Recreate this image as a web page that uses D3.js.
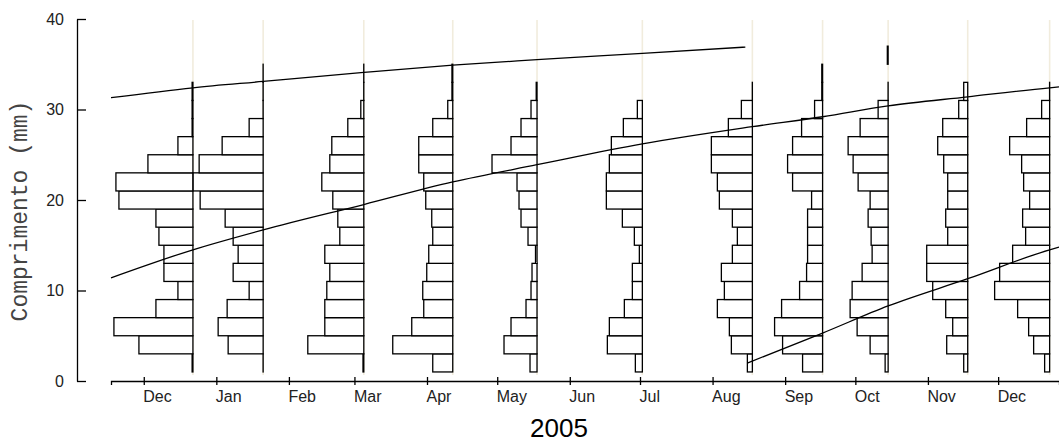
<!DOCTYPE html>
<meta charset="utf-8">
<body style="margin:0;background:#fff">
<svg id="chart" width="1059" height="442"></svg>
<script src="https://d3js.org/d3.v7.min.js"></script>
<style>
  body { font-family: "Liberation Sans", Arial, sans-serif; }
  .tick text { font-size: 16px; fill: #222; }
</style>
<script>

// length classes (lower bound, mm), 2 mm wide
var classLower = [1, 3, 5, 7, 9, 11, 13, 15, 17, 19, 21, 23, 25, 27, 29, 31, 33, 35]

// sampling dates
var sampleDates = [
  new Date(2004, 11, 22), new Date(2005, 0, 21), new Date(2005, 2, 5),
  new Date(2005, 3, 12), new Date(2005, 4, 18), new Date(2005, 6, 2),
  new Date(2005, 7, 18), new Date(2005, 8, 17), new Date(2005, 9, 15),
  new Date(2005, 10, 18), new Date(2005, 11, 23)
]

// frequencies per sample, one value per length class (0 = empty class)
var freqs = [
  [0.8, 54, 79, 37, 15, 29, 29, 34, 37, 74, 77, 45, 15, 0.8, 0.8, 0.8, 0, 0],
  [0.05, 35, 45, 36, 14, 30, 25, 30, 38, 63, 70, 64, 41, 14, 0.05, 0.05, 0.05, 0],
  [0.8, 56, 39, 39, 37, 34, 39, 24, 26, 31, 42, 34, 32, 16, 3, 0.05, 0.05, 0],
  [20, 60, 41, 29, 30, 26, 24, 20, 21, 27, 29, 34, 34, 20, 5, 0.8, 0.8, 0],
  [7, 33, 26, 11, 6, 5, 1.5, 9, 16, 18, 20, 45, 26, 16, 6, 0.8, 0, 0],
  [7, 35, 33, 18, 10, 10, 3, 8, 20, 36, 36, 33, 31, 19, 5, 0, 0, 0],
  [5, 21, 23, 35, 28, 31, 20, 15, 20, 33, 35, 41, 41, 24, 11, 0.05, 0, 0],
  [20, 40, 48, 41, 23, 16, 15, 15, 15, 11, 30, 35, 30, 21, 8, 0.8, 0.8, 0],
  [3, 18, 31, 38, 36, 26, 16, 17, 20, 18, 30, 35, 40, 28, 10, 0.05, 0, 0.8],
  [4, 21, 15, 22, 35, 41, 41, 20, 22, 20, 20, 24, 30, 25, 9, 4, 0, 0],
  [5, 16, 21, 32, 55, 50, 37, 24, 27, 20, 26, 28, 40, 23, 8, 0.05, 0, 0]
]

// growth curves: [date, length mm]
var cohortA = [
  [new Date(2004, 10, 17), 31.3], [new Date(2004, 11, 22), 32.4], [new Date(2005, 0, 21), 33.1],
  [new Date(2005, 2, 5), 34.1], [new Date(2005, 3, 12), 34.9], [new Date(2005, 4, 18), 35.5],
  [new Date(2005, 6, 2), 36.2], [new Date(2005, 7, 15), 36.9]
]
var cohortB = [
  [new Date(2004, 10, 17), 11.4], [new Date(2004, 11, 22), 14.5], [new Date(2005, 0, 21), 16.7],
  [new Date(2005, 2, 5), 19.5], [new Date(2005, 3, 12), 22.0], [new Date(2005, 4, 18), 23.9],
  [new Date(2005, 6, 2), 26.2], [new Date(2005, 7, 18), 28.1], [new Date(2005, 8, 17), 29.2],
  [new Date(2005, 9, 15), 30.4], [new Date(2005, 10, 18), 31.4], [new Date(2005, 11, 23), 32.4],
  [new Date(2005, 11, 27), 32.5]
]
var cohortC = [
  [new Date(2005, 7, 16), 2.0], [new Date(2005, 8, 17), 5.3], [new Date(2005, 9, 15), 8.3],
  [new Date(2005, 10, 18), 11.3], [new Date(2005, 11, 23), 14.5], [new Date(2005, 11, 27), 14.8]
]

var yTicks = [0, 10, 20, 30, 40]
var monthTicks = d3.timeMonth.range(new Date(2004, 11, 1), new Date(2005, 11, 2))

var svg = d3.select('#chart')

var x = d3.scaleTime()
  .domain([new Date(2004, 10, 17), new Date(2005, 11, 27)])
  .range([111, 1059])
var y = d3.scaleLinear().domain([0, 40]).range([381, 19])
var w = d3.scaleLinear().domain([0, 80]).range([0, 80])

// light guide line at every sample
svg.append('g').selectAll('line')
  .data(sampleDates)
  .enter().append('line')
  .attr('x1', function (d) { return x(d) })
  .attr('x2', function (d) { return x(d) })
  .attr('y1', 20)
  .attr('y2', 375)
  .attr('stroke', '#f1ecdd')
  .attr('stroke-width', 1.6)

// histograms, bars extend to the left of each sample date
sampleDates.forEach(function (date, i) {
  var x0 = x(date)
  var bins = classLower.map(function (lo, j) { return { lo: lo, f: freqs[i][j] } })
    .filter(function (b) { return b.f > 0 })
  svg.append('g').selectAll('rect')
    .data(bins)
    .enter().append('rect')
    .attr('x', function (b) { return x0 - w(b.f) })
    .attr('y', function (b) { return y(b.lo + 2) })
    .attr('width', function (b) { return w(b.f) })
    .attr('height', function (b) { return y(b.lo) - y(b.lo + 2) })
    .attr('fill', '#fff')
    .attr('stroke', '#000')
    .attr('stroke-width', 1.3)
})

// growth curves
var line = d3.line()
  .x(function (d) { return x(d[0]) })
  .y(function (d) { return y(d[1]) })
  .curve(d3.curveMonotoneX)

svg.append('g').selectAll('path')
  .data([cohortA, cohortB, cohortC])
  .enter().append('path')
  .attr('d', line)
  .attr('fill', 'none')
  .attr('stroke', '#000')
  .attr('stroke-width', 1.3)

// y axis
var yAxis = svg.append('g')
  .attr('transform', 'translate(77,0)')
  .call(d3.axisLeft(y).tickValues(yTicks).tickSizeInner(-9).tickSizeOuter(0).tickPadding(13))
yAxis.selectAll('path, line').attr('stroke', '#000').attr('stroke-width', 1.3)
yAxis.selectAll('text').attr('font-family', '"Liberation Sans", Arial, sans-serif')

// x axis
var xAxis = svg.append('g')
  .attr('transform', 'translate(0,381)')
  .call(d3.axisBottom(x).tickValues(monthTicks).tickFormat(d3.timeFormat('%b')).tickSizeOuter(0).tickSize(4).tickPadding(6))
xAxis.selectAll('path, line').attr('stroke', '#000').attr('stroke-width', 1.3)
xAxis.selectAll('.tick line').attr('y1', -4)
xAxis.selectAll('text')
  .attr('text-anchor', 'start')
  .attr('dx', -1)
  .attr('font-family', '"Liberation Sans", Arial, sans-serif')

// titles
svg.append('text')
  .attr('transform', 'translate(27,211) rotate(-90)')
  .attr('text-anchor', 'middle')
  .attr('font-family', '"Liberation Mono", "Courier New", monospace')
  .attr('font-size', 23)
  .attr('fill', '#444')
  .text('Comprimento (mm)')

svg.append('text')
  .attr('x', 559)
  .attr('y', 437)
  .attr('text-anchor', 'middle')
  .attr('font-family', '"Liberation Sans", Arial, sans-serif')
  .attr('font-size', 26)
  .attr('fill', '#000')
  .text('2005')

</script>
